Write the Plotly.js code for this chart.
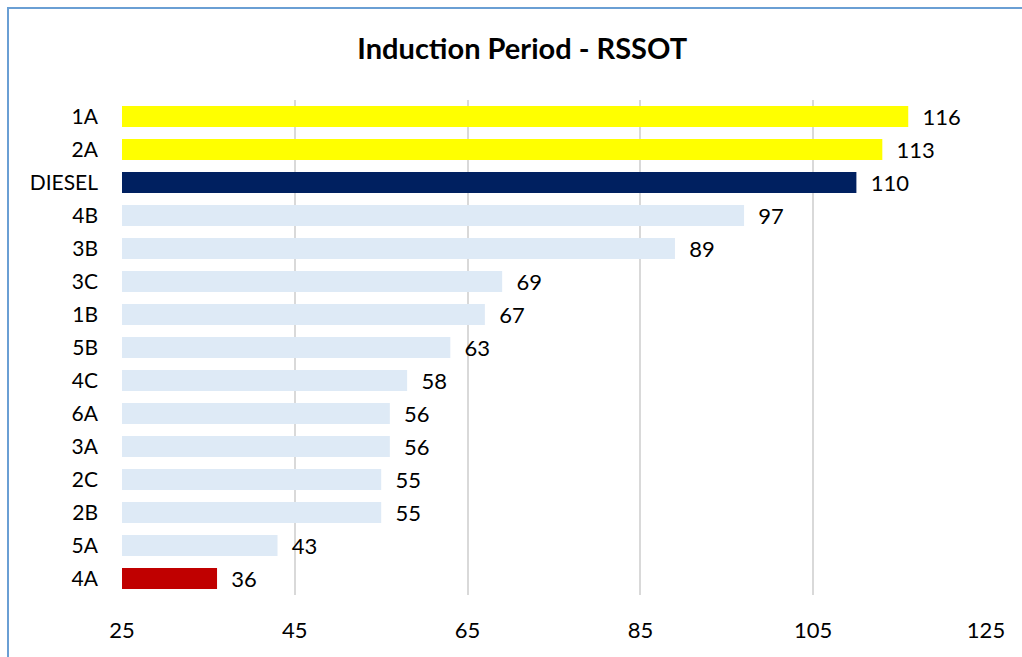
<!DOCTYPE html>
<html>
<head>
<meta charset="utf-8">
<script src="https://cdn.plot.ly/plotly-3.0.1.min.js"></script>
<style>
html,body{margin:0;padding:0;background:#fff;}
#wrap{position:relative;width:1022px;height:657px;overflow:hidden;}
#frame{position:absolute;left:7px;top:7px;width:1100px;height:700px;border-left:2px solid #6a9fd4;border-top:2px solid #6a9fd4;box-sizing:border-box;pointer-events:none;z-index:5;}
#chart{position:absolute;left:0;top:0;width:1022px;height:657px;}
</style>
</head>
<body>
<div id="wrap">
<div id="chart"></div>
<div id="frame"></div>
</div>
<script>
const categories = ["1A","2A","DIESEL","4B","3B","3C","1B","5B","4C","6A","3A","2C","2B","5A","4A"];
const values = [116,113,110,97,89,69,67,63,58,56,56,55,55,43,36];
const barColors = ["#FFFF00","#FFFF00","#002060","#DEEAF6","#DEEAF6","#DEEAF6","#DEEAF6","#DEEAF6","#DEEAF6","#DEEAF6","#DEEAF6","#DEEAF6","#DEEAF6","#DEEAF6","#C00000"];
const xTicks = [25,45,65,85,105,125];
const axisStart = 25;

const FONT = "Lato, 'Open Sans', 'Liberation Sans', sans-serif";

const trace = {
  type: "bar",
  orientation: "h",
  y: categories,
  x: values.map(v => v - axisStart),
  base: axisStart,
  marker: {color: barColors, line: {width: 0}},
  text: values.map(v => String(v)),
  texttemplate: "  %{text}",
  textposition: "outside",
  constraintext: "none",
  cliponaxis: false,
  textfont: {family: FONT, size: 22, color: "#000"},
  hoverinfo: "none"
};

const layout = {
  width: 1022, height: 657,
  margin: {l: 122, r: 36, t: 100, b: 62},
  paper_bgcolor: "#fff", plot_bgcolor: "#fff",
  title: {text: "<b>Induction Period - RSSOT</b>", x: 0.511, xanchor: "center", y: 0.925, yanchor: "middle",
          font: {family: FONT, size: 29, color: "#000"}},
  bargap: 0.36,
  showlegend: false,
  xaxis: {
    range: [25, 125], tickvals: xTicks, ticktext: xTicks.map(String),
    showgrid: true, gridcolor: "#D9D9D9", gridwidth: 2,
    zeroline: false, showline: false, ticks: "",
    ticklabelstandoff: 20,
    tickfont: {family: FONT, size: 22, color: "#000"},
    fixedrange: true
  },
  yaxis: {
    categoryorder: "array", categoryarray: categories,
    autorange: "reversed",
    showgrid: false, zeroline: false, showline: false, ticks: "",
    ticklabelstandoff: 23,
    tickfont: {family: FONT, size: 21, color: "#000"},
    fixedrange: true
  }
};

Plotly.newPlot("chart", [trace], layout, {displayModeBar: false, staticPlot: true});
</script>
</body>
</html>
